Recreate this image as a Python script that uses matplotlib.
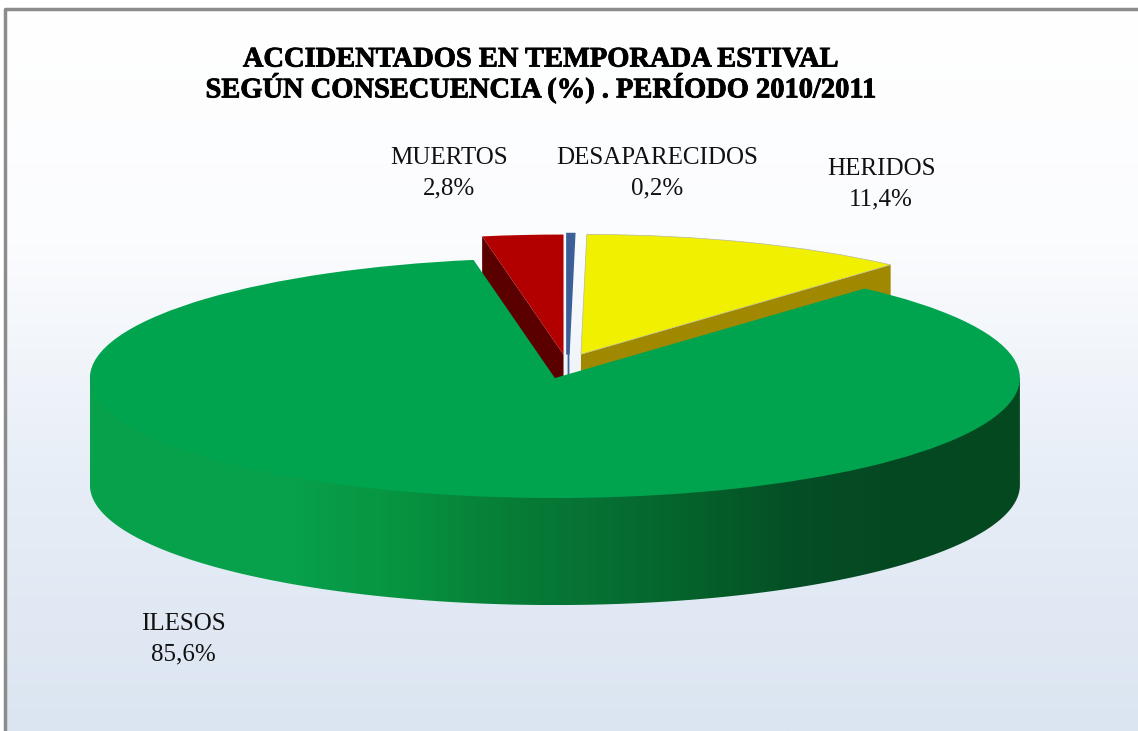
import numpy as np
import matplotlib
matplotlib.use('Agg')
import matplotlib.pyplot as plt
import matplotlib.patheffects as pe
from matplotlib.colors import LinearSegmentedColormap
from matplotlib.patches import Polygon

W, H = 1138, 731

categories = ['MUERTOS', 'DESAPARECIDOS', 'HERIDOS', 'ILESOS']
values = [2.8, 0.2, 11.4, 85.6]
colors = ['#b20000', '#3b5f96', '#f0f000', '#00a44e']
title = 'ACCIDENTADOS EN TEMPORADA ESTIVAL\nSEGÚN CONSECUENCIA (%) . PERÍODO 2010/2011'

# pie geometry, in pixels
cx, cy = 567.6, 366.5
rx, ry = 465, 120
depth = 107 / ry

plt.rcParams['font.family'] = ['Liberation Serif', 'DejaVu Serif']

fig = plt.figure(figsize=(W / 100, H / 100), dpi=100)

# background
bg = fig.add_axes([0, 0, 1, 1])
bg_cmap = LinearSegmentedColormap.from_list('bg', ['#ffffff', '#fbfcfe', '#e6edf6', '#dbe5f1'])
bg.imshow(np.linspace(0, 1, 256).reshape(-1, 1), cmap=bg_cmap, aspect='auto', extent=[0, W, H, 0])
bg.fill_between([0, W], 0, 7, color='white')
bg.fill_between([0, 5], 0, H, color='white')
bg.plot([5.5, 5.5, W], [H, 8.5, 8.5], color='#8c8c8c', lw=2.5, solid_capstyle='butt')
bg.set_xlim(0, W)
bg.set_ylim(H, 0)
bg.axis('off')

# pie: x and y scaled apart so the circle becomes the tilted ellipse
ax = fig.add_axes([0, 0, 1, 1], facecolor='none')
start = 90 + 3.6 * values[0]
wedges, _ = ax.pie(values, colors=colors, startangle=start, counterclock=False,
                   explode=[0.1] * len(values), radius=1)
ax.set_aspect('auto')
ax.axis('off')


def cut_face(wedge, angle, color, lw=0):
    x0, y0 = wedge.center
    x1 = x0 + np.cos(np.radians(angle))
    y1 = y0 + np.sin(np.radians(angle))
    pts = [(x0, y0), (x1, y1), (x1, y1 - depth), (x0, y0 - depth)]
    ax.add_patch(Polygon(pts, closed=True, facecolor=color,
                         edgecolor=color if lw else 'none', linewidth=lw, zorder=0.5))


muertos, desap, heridos, ilesos = wedges
# yellow slice sits a bit closer to the others than a plain explode puts it
heridos.set_center((heridos.center[0] - 3.5 / rx, heridos.center[1] + 1 / ry))
cut_face(muertos, muertos.theta2, '#5a0000')
cut_face(heridos, heridos.theta1, '#a08800')
cut_face(desap, desap.theta2, colors[1], lw=1)
for w in wedges:
    w.set_edgecolor('none')
    w.set_zorder(1)
heridos.set_edgecolor('#b8b8a0')
heridos.set_linewidth(0.5)
# the smallest slice is a strip, not a sliver
desap.set_edgecolor(colors[1])
desap.set_linewidth(2.5)
ilesos.set_zorder(3)

# front wall of the big slice, shaded from left to right
# its top edge runs a little inside the top face to avoid a seam
t = np.radians(np.linspace(180, 360, 200))
x0, y0 = ilesos.center
top_edge = np.c_[x0 + 0.99 * np.cos(t), y0 + 0.99 * np.sin(t)]
bottom_edge = np.c_[x0 + np.cos(t), y0 + np.sin(t) - depth]
wall = Polygon(np.r_[[(x0 - 1, y0)], top_edge, [(x0 + 1, y0)], bottom_edge[::-1]], closed=True,
               facecolor='none', edgecolor='none', transform=ax.transData)
ax.add_patch(wall)
wall_cmap = LinearSegmentedColormap.from_list(
    'wall', [(0, '#07a24c'), (0.22, '#07a04b'), (0.33, '#079441'), (0.44, '#067f37'),
             (0.55, '#067033'), (0.66, '#056029'), (0.76, '#044e26'), (0.87, '#044822'),
             (1, '#044820')])
im = ax.imshow(np.linspace(0, 1, 256).reshape(1, -1), cmap=wall_cmap, aspect='auto',
               extent=[x0 - 1, x0 + 1, y0 - 1 - depth, y0 + 1], zorder=2)
im.set_clip_path(wall)
ax.set_xlim(-cx / rx, (W - cx) / rx)
ax.set_ylim((cy - H) / ry, cy / ry)
ax.set_aspect('auto')

# texts
fig.text(541 / W, 1 - 75.5 / H, title, ha='center', va='center', fontsize=20.5,
         fontweight='bold', color='black', linespacing=1.04,
         path_effects=[pe.withStroke(linewidth=0.6, foreground='black')])

label_pos = [(449, 173.5), (657, 173.5), (881, 184), (183, 639)]
for name, val, (px, py) in zip(categories, values, label_pos):
    txt = f'{name}\n{val:.1f}%'.replace('.', ',')
    fig.text(px / W, 1 - py / H, txt, ha='center', va='center', fontsize=18,
             color='#111111', linespacing=1.5)

fig.savefig('out.png', dpi=100)
